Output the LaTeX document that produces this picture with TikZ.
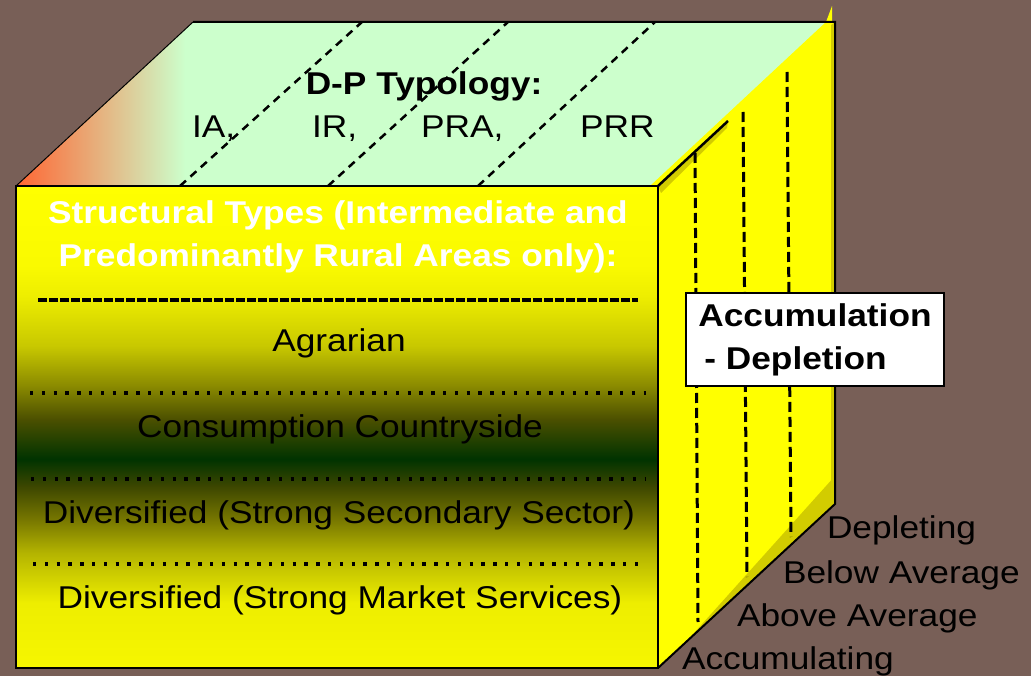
\documentclass[tikz,border=0pt]{standalone}
\usepackage{fontspec}
\setmainfont{Liberation Sans}[FakeStretch=1.12]
\usepackage{tikz}

\definecolor{backdrop}{RGB}{120,95,87}
\definecolor{topgreen}{RGB}{204,255,204}
\definecolor{cornerorange}{RGB}{255,102,51}
\definecolor{sideyellow}{RGB}{255,255,0}
\definecolor{sideshadow}{RGB}{210,204,0}
\pgfdeclareverticalshading{frontshade}{100bp}{rgb(0bp)=(0.965,0.965,0); rgb(25bp)=(0.965,0.965,0);
 rgb(31.74bp)=(0.933,0.933,0); rgb(36.93bp)=(0.706,0.706,0); rgb(40.46bp)=(0.463,0.463,0);
 rgb(43.88bp)=(0.235,0.275,0); rgb(46.68bp)=(0,0.2,0); rgb(50.83bp)=(0.298,0.314,0);
 rgb(54.25bp)=(0.541,0.541,0); rgb(58.4bp)=(0.784,0.784,0); rgb(63.59bp)=(0.933,0.933,0);
 rgb(66.7bp)=(0.98,0.98,0); rgb(75bp)=(1,1,0); rgb(100bp)=(1,1,0)}

\begin{document}
\begin{tikzpicture}[x=1pt, y=-1pt,
  every node/.style={font=\fontsize{31.5}{43}\selectfont, inner sep=0pt, outer sep=0pt},
  facetext/.style={anchor=base},
  sidetext/.style={anchor=base west},
  topdash/.style={line width=2.5pt, dash pattern=on 8pt off 6pt},
  sidedash/.style={line width=3pt, dash pattern=on 10pt off 5pt},
  rowdots/.style={line width=3.3pt, dash pattern=on 3.3pt off 8.5pt}]
\useasboundingbox (0,0) rectangle (1031,676);
\fill[backdrop] (0,0) rectangle (1031,676);

\begin{scope}
\clip (16,186) -- (193,22) -- (835,22) -- (658,186) -- cycle;
\fill[topgreen] (0,0) rectangle (840,190);
\shade[left color=cornerorange, right color=topgreen] (16,20) rectangle (185,190);
\end{scope}

\fill[sideyellow] (650,186) -- (826,22) -- (832,6) -- (832,22) -- (835,22) -- (835,504) -- (658,668) -- cycle;
\fill[sideshadow] (831,25) -- (835,22) -- (835,504) -- (831,507) -- cycle;
\fill[sideshadow] (835,476) -- (835,504) -- (685,643) -- cycle;
\fill[sideshadow] (658,186) -- (728,121) -- (727,128) -- (661,193) -- cycle;

\draw[line width=1pt] (16,186) -- (193,22);
\draw[line width=2pt] (193,22) -- (835,22) -- (835,504) -- (658,668);
\draw[line width=2.5pt] (658,186) -- (728,121);

\shade[shading=frontshade] (16,186) rectangle (658,668);
\draw[line width=2.5pt] (16,186) rectangle (658,668);

\node[font=\bfseries\fontsize{31.5}{43}\selectfont, facetext] (typology) at (424,95) {D-P Typology:};
\node[sidetext] (ia) at (192,138) {IA,};
\node[sidetext] (ir) at (312,138) {IR,};
\node[sidetext] (pra) at (421,138) {PRA,};
\node[sidetext] (prr) at (580,138) {PRR};

\draw[topdash] (180,186) -- (362,22);
\draw[topdash] (328,186) -- (508,22);
\draw[topdash] (478,186) -- (655,22);

\node[font=\bfseries\fontsize{31.5}{43}\selectfont, text=white, facetext] (structural) at (338,224) {Structural Types (Intermediate and};
\node[font=\bfseries\fontsize{31.5}{43}\selectfont, text=white, facetext] (predominantly) at (338,267) {Predominantly Rural Areas only):};
\draw[line width=4.3pt, dash pattern=on 9.3pt off 1.7pt] (38,300) -- (638,300);

\node[facetext] (agrarian) at (339,352) {Agrarian};
\draw[rowdots] (30,393) -- (646,393);
\node[facetext] (consumption) at (340,437) {Consumption Countryside};
\draw[rowdots] (31,479) -- (646,479);
\node[facetext] (secondary) at (339,523) {Diversified (Strong Secondary Sector)};
\draw[rowdots] (33,564) -- (646,564);
\node[facetext] (market) at (340,608) {Diversified (Strong Market Services)};

\draw[sidedash] (695,153) -- (698,622);
\draw[sidedash] (743,112) -- (747,577);
\draw[sidedash] (787,72) -- (791,537);

\node[draw, line width=2.5pt, fill=white, minimum width=258pt, minimum height=93pt, align=left,
  font=\bfseries\fontsize{31.5}{43}\selectfont] (accbox) at (815,339.5) {Accumulation\\\hspace{6pt}- Depletion};

\node[sidetext] (depleting) at (827,538) {Depleting};
\node[sidetext] (below) at (783,583) {Below Average};
\node[sidetext] (above) at (737,626) {Above Average};
\node[sidetext] (accumulating) at (682,669) {Accumulating};
\end{tikzpicture}
\end{document}
